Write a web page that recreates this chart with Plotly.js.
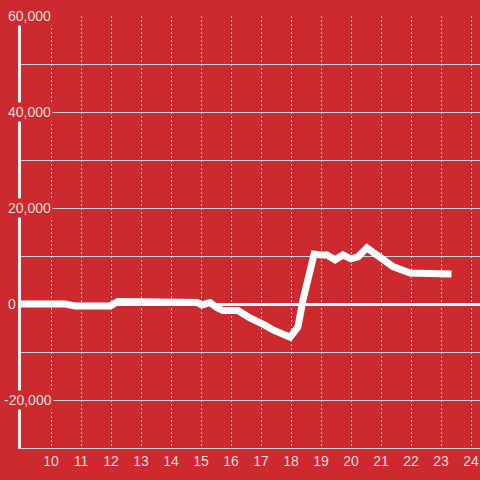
<!DOCTYPE html>
<html>
<head>
<meta charset="utf-8">
<script src="https://cdn.plot.ly/plotly-3.0.1.min.js"></script>
<style>html,body{margin:0;padding:0;background:#cd2a2f;}#chart{width:480px;height:480px;}</style>
</head>
<body>
<div id="chart"></div>
<script>
// Data
const hours = [9.0, 10.47, 10.8, 11.97, 12.23, 14.63, 14.87, 15.03, 15.3, 15.53, 15.73, 16.23, 16.63, 17.13, 17.4, 17.97, 18.23, 18.4, 18.77, 19.0, 19.2, 19.47, 19.73, 20.0, 20.23, 20.53, 20.97, 21.4, 21.97, 23.35];
const values = [0, 0, -400, -400, 500, 400, 300, -200, 300, -800, -1350, -1350, -2900, -4400, -5400, -6900, -4800, 830, 10400, 10200, 10200, 9200, 10200, 9400, 9800, 11700, 9600, 7800, 6450, 6250];
const xTickVals = [10, 11, 12, 13, 14, 15, 16, 17, 18, 19, 20, 21, 22, 23, 24];
const xTickText = ['10', '11', '12', '13', '14', '15', '16', '17', '18', '19', '20', '21', '22', '23', '24'];
const yTickVals = [60000, 40000, 20000, 0, -20000];
const yTickText = ['60,000', '40,000', '20,000', '0', '-20,000'];

const BG = '#cd2a2f';
const TXT = '#f2dcdc';
const GRID = '#d6d2d2';

const annotations = yTickVals.map((v, i) => ({
  xref: 'paper', yref: 'y', x: 0, y: v,
  xanchor: 'left', yanchor: 'middle',
  xshift: yTickText[i].startsWith('-') ? -19 : -15,
  text: yTickText[i], showarrow: false,
  font: {family: 'Liberation Sans, Arial, sans-serif', size: 14, color: TXT},
  bgcolor: BG, borderpad: 1
}));

const trace = {
  x: hours, y: values, type: 'scatter', mode: 'lines',
  line: {color: '#ffffff', width: 7},
  hoverinfo: 'none'
};

const layout = {
  width: 480, height: 480,
  margin: {l: 21, r: 0, t: 16, b: 32, pad: 0},
  paper_bgcolor: BG, plot_bgcolor: BG,
  showlegend: false,
  font: {family: 'Liberation Sans, Arial, sans-serif', size: 14, color: TXT},
  xaxis: {
    range: [9, 24.3], tickmode: 'array', tickvals: xTickVals, ticktext: xTickText,
    showgrid: true, gridcolor: GRID, gridwidth: 1, griddash: '2px,2px',
    zeroline: false, showline: true, linecolor: GRID, linewidth: 1,
    ticks: '', tickfont: {size: 14, color: TXT}, fixedrange: true
  },
  yaxis: {
    range: [-30000, 60000], dtick: 10000, tick0: 0,
    showgrid: true, gridcolor: GRID, gridwidth: 1,
    zeroline: true, zerolinecolor: '#ffffff', zerolinewidth: 3,
    showline: true, linecolor: '#eeeeee', linewidth: 3,
    showticklabels: false, ticks: '', fixedrange: true
  },
  annotations: annotations
};

Plotly.newPlot('chart', [trace], layout, {displayModeBar: false, staticPlot: true});
</script>
</body>
</html>
